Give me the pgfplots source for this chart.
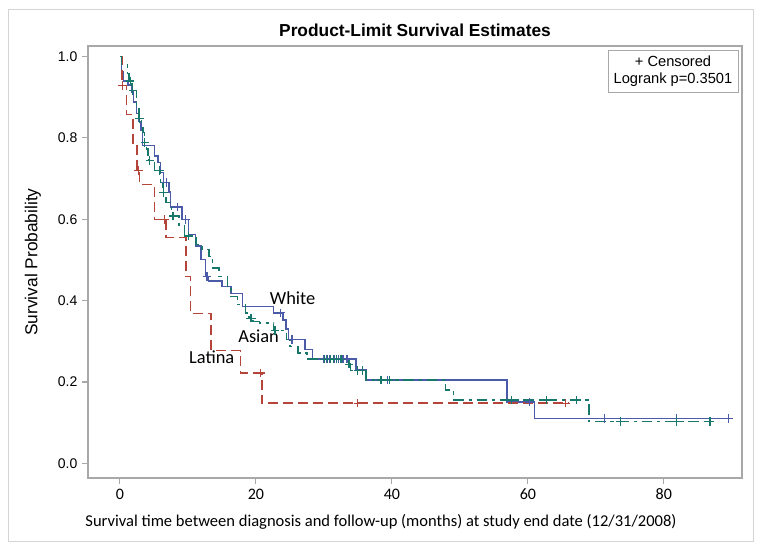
\documentclass[border=0pt]{standalone}
\usepackage{fontspec}
\setmainfont{Liberation Sans}
\newfontfamily\calibri{Carlito}
\usepackage{pgfplots}
\usepackage{pgfplotstable}
\pgfplotsset{compat=1.18}
\definecolor{cwhite}{HTML}{4B5BA8}
\definecolor{clatina}{HTML}{B5443A}
\definecolor{casian}{HTML}{16776A}
\definecolor{framegray}{HTML}{D4D4D4}
\definecolor{axgray}{HTML}{A8A8A8}

\pgfplotstableread{
t s
0 1.000
0.2 0.962
0.5 0.940
1.2 0.930
1.7 0.913
2.0 0.888
2.4 0.860
2.7 0.840
3.1 0.818
3.3 0.781
5.1 0.756
5.6 0.740
6.0 0.715
6.4 0.690
7.2 0.667
7.4 0.630
9.1 0.600
10.1 0.563
11.1 0.534
11.9 0.501
12.6 0.460
13.0 0.448
15.0 0.435
16.3 0.418
18.0 0.386
22.6 0.370
24.0 0.353
24.4 0.330
24.8 0.304
27.2 0.280
28.3 0.256
34.7 0.230
36.2 0.205
56.9 0.151
61.0 0.110
89.5 0.110
}\whitetab

\pgfplotstableread{
t s
6.8 0.690
8.5 0.630
9.7 0.600
12.8 0.460
23.6 0.370
25.3 0.304
30.0 0.256
30.4 0.256
30.8 0.256
31.6 0.256
32.2 0.256
32.8 0.256
33.4 0.256
38.4 0.205
39.4 0.205
60.2 0.151
71.3 0.110
81.9 0.110
89.5 0.110
}\whitecens

\pgfplotstableread{
t s
0 1.000
0.2 0.980
1.1 0.958
1.3 0.940
1.8 0.917
2.4 0.880
2.8 0.847
3.2 0.830
3.4 0.814
3.6 0.789
3.9 0.773
4.1 0.752
4.3 0.744
5.1 0.720
6.0 0.690
6.3 0.666
6.8 0.641
7.6 0.608
8.7 0.583
9.5 0.559
11.2 0.538
12.1 0.526
13.1 0.509
13.6 0.480
14.6 0.460
15.8 0.435
16.3 0.410
17.3 0.390
18.5 0.370
19.0 0.357
19.6 0.349
20.5 0.345
22.6 0.326
24.5 0.304
25.0 0.287
26.2 0.271
27.5 0.256
33.5 0.244
33.9 0.228
36.2 0.205
47.9 0.180
49.1 0.156
69.0 0.103
87.0 0.103
}\asiantab

\pgfplotstableread{
t s
1.5 0.940
1.9 0.917
2.9 0.847
3.65 0.789
4.4 0.744
5.8 0.720
6.4 0.666
7.8 0.608
10.1 0.559
19.2 0.357
19.4 0.357
22.8 0.326
30.1 0.256
30.5 0.256
31.0 0.256
31.4 0.256
31.9 0.256
32.5 0.256
33.7 0.244
35.0 0.228
35.7 0.228
38.4 0.205
39.6 0.205
57.6 0.156
62.7 0.156
67.1 0.156
73.6 0.103
81.9 0.103
86.8 0.103
}\asiancens

\pgfplotstableread{
t s
0 1.000
0.3 0.929
1.0 0.857
1.9 0.786
2.5 0.720
2.9 0.686
5.1 0.600
6.8 0.555
9.7 0.460
10.4 0.368
13.4 0.277
17.7 0.222
20.9 0.148
66.0 0.148
}\latinatab

\pgfplotstableread{
t s
0.4 0.929
2.7 0.720
6.6 0.600
20.7 0.222
35.0 0.148
65.5 0.148
}\latinacens

\begin{document}
\begin{tikzpicture}[x=1pt,y=1pt]
\useasboundingbox (-66,-54.75) rectangle (505.5,358.5);
\draw[framegray, line width=0.75pt] (-59.25,-47.25) rectangle (498.75,351);
\begin{axis}[
  at={(0pt,0pt)}, anchor=south west,
  scale only axis, width=490.5pt, height=324pt,
  xmin=-4.7, xmax=91.5, ymin=-0.036, ymax=1.026,
  xtick={0,20,40,60,80}, ytick={0,0.2,0.4,0.6,0.8,1.0},
  axis line style={draw=axgray, line width=1.1pt},
  tick style={draw=axgray, line width=0.8pt},
  tick align=outside, xtick pos=bottom, ytick pos=left,
  major tick length=4.5pt,
  /pgf/number format/assume math mode=true,
  yticklabel style={font=\fontsize{10.5}{12}\selectfont,
    /pgf/number format/fixed, /pgf/number format/fixed zerofill,
    /pgf/number format/precision=1},
  xticklabel style={font=\calibri\fontsize{12}{14}\selectfont},
]
\addplot[const plot, color=cwhite, line width=1.1pt] table[x=t,y=s] {\whitetab};
\addplot[only marks, mark=+, mark size=3.2pt, color=cwhite, mark options={solid, line width=0.9pt}] table[x=t,y=s] {\whitecens};
\addplot[const plot, color=clatina, line width=1.1pt, dash pattern=on 7.5pt off 3.75pt] table[x=t,y=s] {\latinatab};
\addplot[only marks, mark=+, mark size=3.2pt, color=clatina, mark options={solid, line width=0.9pt}] table[x=t,y=s] {\latinacens};
\addplot[const plot, color=casian, line width=1.1pt, dash pattern=on 8pt off 3.5pt on 2.5pt off 3.5pt] table[x=t,y=s] {\asiantab};
\addplot[only marks, mark=+, mark size=3.2pt, color=casian, mark options={solid, line width=0.9pt}] table[x=t,y=s] {\asiancens};
\node[font=\calibri\fontsize{13.8}{16}\selectfont] at (axis cs:25.4,0.407) {White};
\node[font=\calibri\fontsize{13.8}{16}\selectfont] at (axis cs:20.4,0.313) {Asian};
\node[font=\calibri\fontsize{13.8}{16}\selectfont] at (axis cs:13.5,0.262) {Latina};
\end{axis}
\node[font=\bfseries\fontsize{13}{15}\selectfont] at (245.25,336) {Product-Limit Survival Estimates};
\node[rotate=90, font=\fontsize{13}{15}\selectfont] at (-41.25,162) {Survival Probability};
\node[font=\calibri\fontsize{12.4}{14}\selectfont] at (219.75,-33) {Survival time between diagnosis and follow-up (months) at study end date (12/31/2008)};
\node[draw=axgray, line width=0.6pt, align=center, font=\fontsize{11}{12.75}\selectfont, minimum width=97.5pt, minimum height=31.5pt, inner sep=1pt] at (438.75,305.25) {+ Censored\\Logrank p=0.3501};
\end{tikzpicture}
\end{document}
